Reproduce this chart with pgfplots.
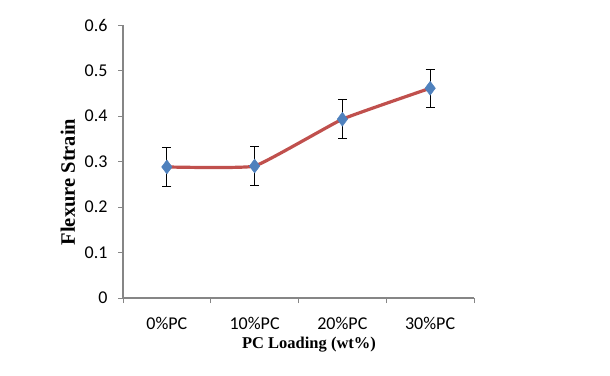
\documentclass[border=0pt]{standalone}
\usepackage{pgfplots}
\pgfplotsset{compat=1.18}
\usepackage{fontspec}
\setmainfont{Liberation Serif}
\newfontfamily\calibri{Carlito}
\definecolor{linered}{HTML}{C0504D}
\definecolor{markblue}{HTML}{4F81BD}
\definecolor{axisgray}{HTML}{868686}

\begin{document}
\begin{tikzpicture}[x=1pt,y=1pt]
\path[use as bounding box] (0,0) rectangle (610,375);
\begin{axis}[
    at={(123pt,77pt)}, anchor=south west,
    scale only axis, width=351pt, height=273pt,
    axis lines*=left,
    axis line style={axisgray, line width=1.8pt, -},
    xmin=0, xmax=4, ymin=0, ymax=0.6,
    ytick={0,0.1,0.2,0.3,0.4,0.5,0.6},
    xtick={0.5,1.5,2.5,3.5},
    xticklabels={0\%PC,10\%PC,20\%PC,30\%PC},
    minor xtick={0,1,2,3,4},
    major x tick style={draw=none},
    tick align=outside,
    major tick length=5pt, minor tick length=5pt,
    every tick/.style={axisgray, line width=1pt},
    /pgf/number format/assume math mode=true,
    /pgf/number format/fixed, /pgf/number format/precision=1,
    ticklabel style={font=\calibri\fontsize{18}{19}\selectfont, text=black},
    xticklabel style={yshift=-11pt},
    yticklabel style={xshift=-7pt},
    xlabel={\textbf{PC Loading (wt\%)}},
    xlabel style={font=\fontsize{16.5}{18}\selectfont, at={(axis description cs:0.53,-0.17)}, anchor=center},
    ylabel={\textbf{Flexure Strain}},
    ylabel style={font=\fontsize{20.5}{22}\selectfont, at={(axis description cs:-0.157,0.425)}, anchor=center, rotate=0},
    clip=false,
]
\addplot[linered, line width=3.2pt, smooth, tension=0.2] coordinates {
    (0.5,0.288) (1.5,0.290) (2.5,0.393) (3.5,0.461)
};
\addplot[draw=none, mark=none,
    error bars/.cd, y dir=both, y explicit,
    error bar style={black, line width=1pt},
    error mark options={black, line width=1pt, mark size=4.5pt, rotate=90}]
  coordinates {
    (0.5,0.288) +- (0,0.043)
    (1.5,0.290) +- (0,0.042)
    (2.5,0.393) +- (0,0.043)
    (3.5,0.461) +- (0,0.042)
};
\addplot[only marks, mark=diamond*, mark size=7pt, markblue, mark options={draw=markblue, fill=markblue}] coordinates {
    (0.5,0.288) (1.5,0.290) (2.5,0.393) (3.5,0.461)
};
\end{axis}
\end{tikzpicture}
\end{document}
